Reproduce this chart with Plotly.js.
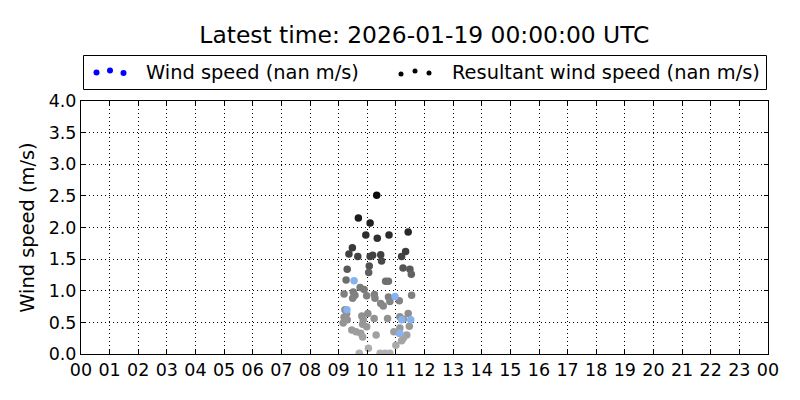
<!DOCTYPE html>
<html>
<head>
<meta charset="utf-8">
<script src="https://cdn.plot.ly/plotly-3.0.1.min.js"></script>
<style>html,body{margin:0;padding:0;background:#fff;} #chart{width:800px;height:400px;}</style>
</head>
<body>
<div id="chart"></div>
<script>
// Observation time (hours UTC) and resultant wind speed (m/s)
const resHours = [10.33, 9.69, 10.10, 11.43, 9.95, 10.35, 10.76, 9.48, 9.36, 9.67, 10.10, 10.19, 10.47, 10.50, 11.34, 11.20,
  10.07, 10.05, 9.30, 11.25, 11.49, 11.54, 9.26, 10.64, 10.74, 9.75, 9.89, 9.51, 9.57, 9.49, 9.19, 9.98, 10.25, 10.27,
  10.47, 10.56, 10.74, 10.79, 11.12, 11.55, 9.22, 9.28, 9.19, 9.30, 9.16, 9.81, 9.86, 9.84, 9.98, 10.02, 10.24, 10.71,
  11.14, 11.26, 11.43, 11.47, 11.14, 11.12, 9.46, 9.61, 9.77, 9.84, 10.31, 10.93, 11.38, 11.26, 11.20, 11.00, 10.04,
  9.72, 10.45, 10.62, 10.79];
const resSpeeds = [2.51, 2.15, 2.07, 1.93, 1.88, 1.83, 1.88, 1.68, 1.58, 1.54, 1.54, 1.56, 1.57, 1.47, 1.62, 1.54,
  1.39, 1.29, 1.34, 1.36, 1.34, 1.26, 1.17, 1.15, 1.15, 1.05, 1.02, 0.98, 0.93, 0.88, 0.95, 0.92, 0.94, 0.88,
  0.80, 0.76, 0.90, 0.83, 0.84, 0.93, 0.70, 0.64, 0.58, 0.54, 0.49, 0.60, 0.54, 0.47, 0.43, 0.64, 0.56, 0.56,
  0.59, 0.55, 0.64, 0.44, 0.41, 0.33, 0.38, 0.35, 0.33, 0.27, 0.30, 0.35, 0.30, 0.25, 0.21, 0.14, 0.09,
  0.01, 0.01, 0.01, 0.01];
// Wind speed (blue points)
const windHours = [9.54, 10.97, 9.29, 11.52, 11.14, 11.20];
const windSpeeds = [1.16, 0.91, 0.70, 0.54, 0.33, 0.54];

const tickHours = [0,1,2,3,4,5,6,7,8,9,10,11,12,13,14,15,16,17,18,19,20,21,22,23,24];
const tickLabels = ["00","01","02","03","04","05","06","07","08","09","10","11","12","13","14","15","16","17","18","19","20","21","22","23","00"];
const yTicks = [0, 0.5, 1.0, 1.5, 2.0, 2.5, 3.0, 3.5, 4.0];
const yTickLabels = ["0.0","0.5","1.0","1.5","2.0","2.5","3.0","3.5","4.0"];

const titleText = "Latest time: 2026-01-19 00:00:00 UTC";
const legendLabels = ["Wind speed (nan m/s)", "Resultant wind speed (nan m/s)"];

const FONT = "DejaVu Sans, sans-serif";

const traces = [
  {
    x: resHours, y: resSpeeds, type: 'scatter', mode: 'markers', showlegend: false, hoverinfo: 'skip',
    marker: {
      size: 7.5, color: resSpeeds, cmin: 0, cmax: 2.5, showscale: false,
      colorscale: [[0,'#b2b2b2'],[0.16,'#9a9a9a'],[0.3,'#888888'],[0.42,'#7a7a7a'],[0.52,'#5e5e5e'],[0.6,'#444444'],[0.7,'#363636'],[0.8,'#222222'],[1,'#0a0a0a']],
      line: {width: 0}
    }
  },
  {
    x: windHours, y: windSpeeds, type: 'scatter', mode: 'markers', showlegend: false, hoverinfo: 'skip',
    marker: {size: 7.5, color: '#86b2f0', line: {width: 0}}
  }
];

function dot(xpx, ypx, color, d) {
  const L = 81, R = 768, T = 101, B = 354;
  const px = (xpx - L) / (R - L);
  const py = (B - ypx) / (B - T);
  return {type: 'circle', xref: 'paper', yref: 'paper', xsizemode: 'pixel', ysizemode: 'pixel',
    xanchor: px, yanchor: py, x0: -d/2, x1: d/2, y0: -d/2, y1: d/2,
    fillcolor: color, line: {width: 0}};
}
function pX(xpx){ return (xpx - 81) / (768 - 81); }
function pY(ypx){ return (354 - ypx) / (354 - 101); }

const shapes = [
  {type: 'rect', xref: 'paper', yref: 'paper', x0: pX(83.5), x1: pX(766.5), y0: pY(55.5), y1: pY(89.5),
   line: {color: '#000', width: 1}, fillcolor: 'rgba(0,0,0,0)'},
  dot(96.5, 72.5, '#0000ff', 6), dot(110, 70.5, '#0000ff', 6), dot(123.5, 73, '#0000ff', 6),
  dot(401, 74, '#000000', 5), dot(415, 71, '#000000', 5), dot(429, 73, '#000000', 5)
];

const annotations = [
  {xref: 'paper', yref: 'paper', x: pX(144), y: pY(72), xanchor: 'left', yanchor: 'middle', showarrow: false,
   text: legendLabels[0], font: {family: FONT, size: 19.4, color: '#000'}},
  {xref: 'paper', yref: 'paper', x: pX(450), y: pY(72), xanchor: 'left', yanchor: 'middle', showarrow: false,
   text: legendLabels[1], font: {family: FONT, size: 19.4, color: '#000'}}
];

const layout = {
  width: 800, height: 400,
  margin: {l: 81, r: 32, t: 101, b: 46, pad: 0},
  paper_bgcolor: '#fff', plot_bgcolor: '#fff',
  font: {family: FONT, color: '#000', size: 17.5},
  title: {text: titleText, font: {family: FONT, size: 23.4, color: '#000'}, x: 0.5305, xanchor: 'center', y: 0.913, yanchor: 'middle'},
  xaxis: {
    range: [0, 24], tickvals: tickHours, ticktext: tickLabels, ticks: 'inside', ticklen: 4, tickwidth: 1, tickcolor: '#000',
    showline: true, linecolor: '#000', linewidth: 1, mirror: 'allticks',
    showgrid: true, gridcolor: '#000', gridwidth: 1, griddash: '1px,3px', zeroline: false,
    tickfont: {family: FONT, size: 17.5, color: '#000'}, fixedrange: true
  },
  yaxis: {
    range: [0, 4], tickvals: yTicks, ticktext: yTickLabels, ticks: 'inside', ticklen: 4, tickwidth: 1, tickcolor: '#000',
    showline: true, linecolor: '#000', linewidth: 1, mirror: 'allticks',
    showgrid: true, gridcolor: '#000', gridwidth: 1, griddash: '1px,3px', zeroline: false,
    tickfont: {family: FONT, size: 17.5, color: '#000'},
    title: {text: 'Wind speed (m/s)', font: {family: FONT, size: 19.4, color: '#000'}, standoff: 8}, fixedrange: true
  },
  shapes: shapes,
  annotations: annotations,
  showlegend: false
};

Plotly.newPlot('chart', traces, layout, {displayModeBar: false, staticPlot: true});
</script>
</body>
</html>
